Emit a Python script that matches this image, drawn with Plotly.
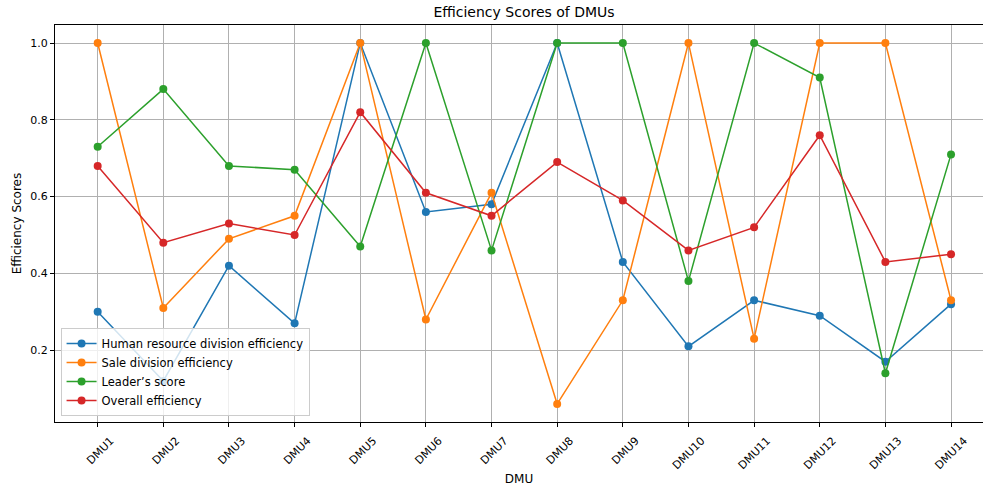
import plotly.graph_objects as go

dmus = [f"DMU{i}" for i in range(1, 15)]
hr_eff = [0.30, 0.12, 0.42, 0.27, 1.0, 0.56, 0.58, 1.0, 0.43, 0.21, 0.33, 0.29, 0.17, 0.32]
sale_eff = [1.0, 0.31, 0.49, 0.55, 1.0, 0.28, 0.61, 0.06, 0.33, 1.0, 0.23, 1.0, 1.0, 0.33]
leader = [0.73, 0.88, 0.68, 0.67, 0.47, 1.0, 0.46, 1.0, 1.0, 0.38, 1.0, 0.91, 0.14, 0.71]
overall = [0.68, 0.48, 0.53, 0.50, 0.82, 0.61, 0.55, 0.69, 0.59, 0.46, 0.52, 0.76, 0.43, 0.45]
yticks = [0.2, 0.4, 0.6, 0.8, 1.0]

series = [
    ("Human resource division efficiency", hr_eff, "#1f77b4"),
    ("Sale division efficiency", sale_eff, "#ff7f0e"),
    ("Leader’s score", leader, "#2ca02c"),
    ("Overall efficiency", overall, "#d62728"),
]

x = list(range(len(dmus)))
fig = go.Figure()
for name, vals, col in series:
    fig.add_trace(go.Scatter(x=x, y=vals, mode="lines+markers", name=name,
                             line=dict(color=col, width=1.5),
                             marker=dict(color=col, size=8)))

font = "DejaVu Sans, Verdana, sans-serif"
fig.update_layout(
    width=983, height=486,
    margin=dict(l=55, r=0, t=25, b=64),
    paper_bgcolor="white", plot_bgcolor="white",
    font=dict(family=font, size=12, color="black"),
    title=dict(text="Efficiency Scores of DMUs", x=524/983, xanchor="center",
               y=1 - 12/486, yanchor="middle", font=dict(size=14)),
    legend=dict(x=0.006, y=0.015, xanchor="left", yanchor="bottom",
                bgcolor="rgba(255,255,255,0.8)", bordercolor="#cccccc", borderwidth=1,
                font=dict(size=11.5), itemwidth=30, tracegroupgap=0),
    showlegend=True,
)
fig.update_xaxes(
    tickmode="array", tickvals=x, ticktext=dmus, tickangle=-45,
    range=[-0.65, 13.487], showgrid=True, gridcolor="#b0b0b0", gridwidth=1,
    showline=True, linecolor="black", linewidth=1, mirror=True,
    ticks="outside", ticklen=4, tickcolor="black", zeroline=False,
    ticklabelshift=13, ticklabelstandoff=3,
    title=dict(text="DMU", standoff=4, font=dict(size=12)), tickfont=dict(size=11),
    automargin=False,
)
fig.update_yaxes(
    tickmode="array", tickvals=yticks, ticktext=[f"{v:.1f}" for v in yticks],
    range=[0.013, 1.047], showgrid=True, gridcolor="#b0b0b0", gridwidth=1,
    showline=True, linecolor="black", linewidth=1, mirror=False,
    ticks="outside", ticklen=4, tickcolor="black", zeroline=False,
    title=dict(text="Efficiency Scores", standoff=6, font=dict(size=12)), tickfont=dict(size=11),
    automargin=False,
)
fig.write_html("out.html", config={"displayModeBar": False},
               post_script="document.body.style.margin='0';document.body.style.overflow='hidden';")
